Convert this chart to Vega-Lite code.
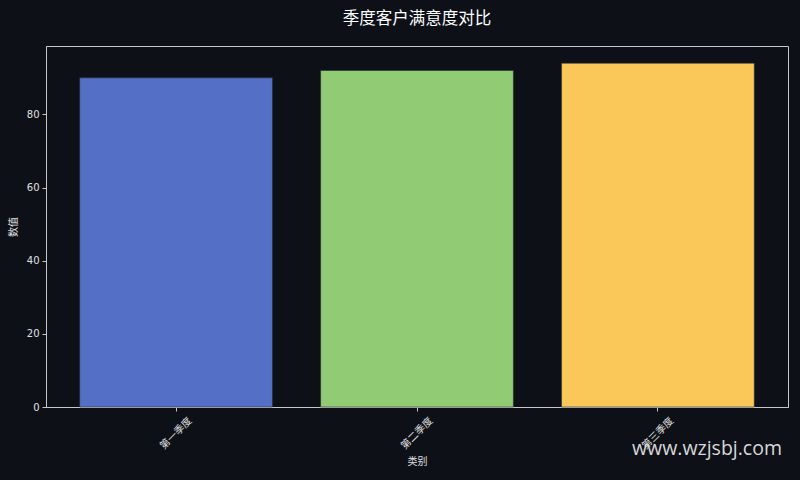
{
  "$schema": "https://vega.github.io/schema/vega-lite/v6.json",
  "description": "季度客户满意度对比",
  "autosize": "none",
  "width": 742,
  "height": 361,
  "padding": {"left": 46, "top": 46, "right": 12, "bottom": 73},
  "background": "#0d1017",
  "config": {
    "font": "Noto Sans CJK SC",
    "view": {"stroke": "#c8c8c8", "strokeWidth": 1},
    "axis": {
      "domainColor": "#c8c8c8",
      "tickColor": "#c8c8c8",
      "labelColor": "#e0e0e0",
      "titleColor": "#e0e0e0",
      "labelFont": "DejaVu Sans",
      "grid": false,
      "tickSize": 4,
      "labelFontSize": 10,
      "titleFontSize": 10,
      "titleFontWeight": "normal"
    }
  },
  "title": {
    "text": "季度客户满意度对比",
    "color": "#ffffff",
    "fontSize": 16.5,
    "fontWeight": "normal",
    "anchor": "middle",
    "offset": 19
  },
  "data": {
    "values": [
      {"类别": "第一季度", "数值": 90},
      {"类别": "第二季度", "数值": 92},
      {"类别": "第三季度", "数值": 94}
    ]
  },
  "layer": [
    {
      "mark": {"type": "bar", "stroke": "#2a2f3a", "strokeWidth": 0.6},
      "encoding": {
        "x": {
          "field": "类别",
          "type": "nominal",
          "sort": null,
          "scale": {"paddingInner": 0.2, "paddingOuter": 0.14},
          "axis": {
            "title": "类别",
            "labelAngle": -45,
            "labelAlign": "center",
            "labelBaseline": "middle",
            "labelPadding": 22,
            "labelFont": "Noto Sans CJK SC",
            "titlePadding": 6
          }
        },
        "y": {
          "field": "数值",
          "type": "quantitative",
          "scale": {"domain": [0, 98.7], "nice": false},
          "axis": {"title": "数值", "values": [0, 20, 40, 60, 80], "titlePadding": 8, "labelPadding": 3}
        },
        "color": {
          "field": "类别",
          "type": "nominal",
          "sort": null,
          "scale": {"range": ["#5470c6", "#91cc75", "#fac858"]},
          "legend": null
        }
      }
    },
    {
      "data": {"values": [{"watermark": "www.wzjsbj.com"}]},
      "mark": {
        "type": "text",
        "x": {"expr": "width"},
        "y": {"expr": "height + 42"},
        "dx": -6,
        "align": "right",
        "baseline": "middle",
        "fontSize": 19.5,
        "font": "Open Sans",
        "color": "#d8d8d8"
      },
      "encoding": {"text": {"field": "watermark"}}
    }
  ]
}
